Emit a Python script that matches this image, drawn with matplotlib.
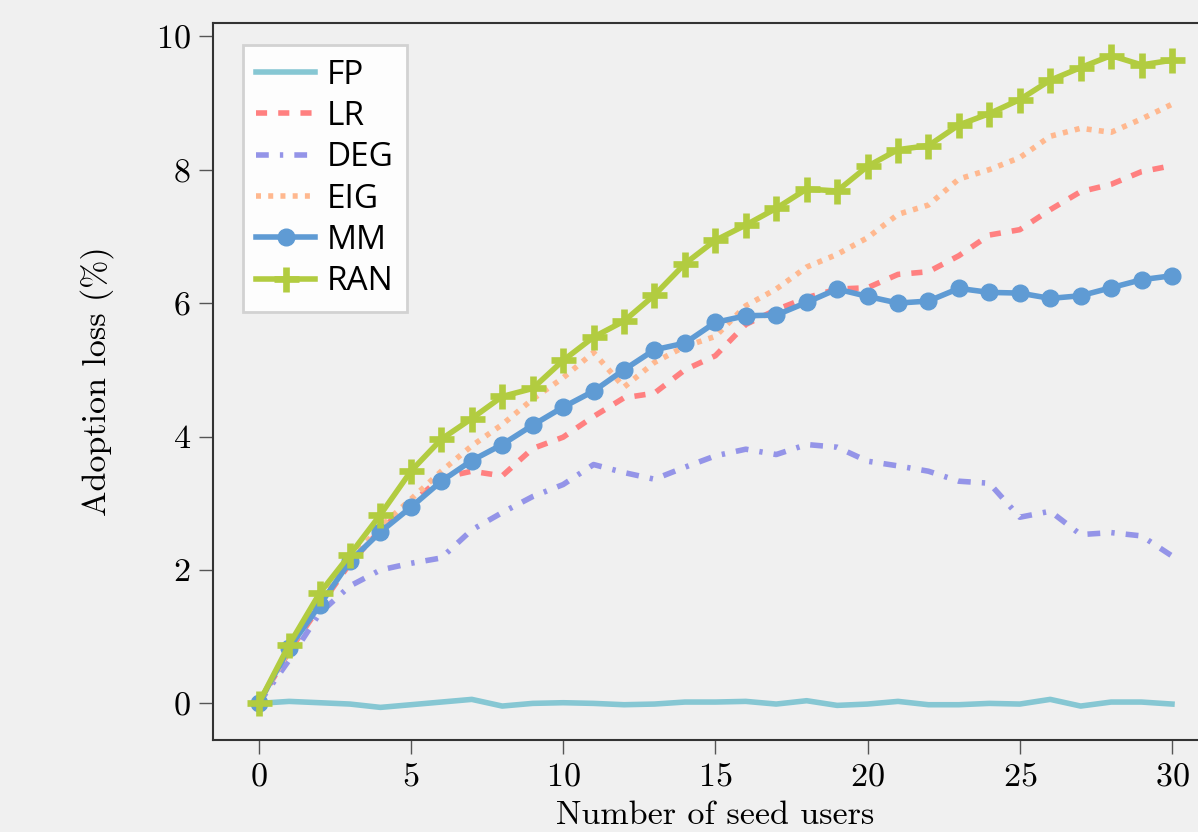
import matplotlib
matplotlib.use("Agg")
import matplotlib.pyplot as plt

seeds = list(range(31))

fp = [0.0, 0.03, 0.01, -0.01, -0.06, -0.02, 0.02, 0.06, -0.04, 0.0, 0.01,
      0.0, -0.02, -0.01, 0.02, 0.02, 0.03, -0.01, 0.04, -0.03, -0.01,
      0.03, -0.02, -0.02, 0.0, -0.01, 0.06, -0.04, 0.02, 0.02, -0.01]
lr = [0.0, 0.78, 1.45, 2.1, 2.6, 3.0, 3.38, 3.48, 3.41, 3.82, 3.99,
      4.3, 4.58, 4.65, 5.0, 5.21, 5.68, 5.9, 6.08, 6.21, 6.23,
      6.43, 6.47, 6.71, 7.02, 7.1, 7.4, 7.67, 7.78, 7.97, 8.06]
deg = [0.0, 0.65, 1.35, 1.76, 2.0, 2.1, 2.18, 2.6, 2.86, 3.1, 3.28,
       3.58, 3.46, 3.36, 3.54, 3.71, 3.81, 3.73, 3.88, 3.84, 3.63,
       3.56, 3.48, 3.33, 3.3, 2.79, 2.88, 2.53, 2.56, 2.51, 2.21]
eig = [0.0, 0.8, 1.55, 2.15, 2.65, 3.06, 3.48, 3.86, 4.18, 4.56, 4.88,
       5.26, 4.74, 5.11, 5.35, 5.5, 5.96, 6.21, 6.54, 6.73, 6.98,
       7.33, 7.47, 7.86, 8.0, 8.18, 8.5, 8.62, 8.56, 8.76, 8.98]
mm = [0.0, 0.83, 1.47, 2.13, 2.57, 2.94, 3.33, 3.64, 3.88, 4.17, 4.44,
      4.68, 5.0, 5.3, 5.4, 5.71, 5.81, 5.82, 6.01, 6.21, 6.1,
      6.0, 6.03, 6.22, 6.16, 6.15, 6.07, 6.11, 6.23, 6.35, 6.41]
ran = [0.0, 0.88, 1.65, 2.23, 2.83, 3.48, 3.96, 4.27, 4.6, 4.72, 5.14,
       5.49, 5.73, 6.12, 6.59, 6.94, 7.17, 7.42, 7.71, 7.68, 8.05,
       8.3, 8.36, 8.67, 8.84, 9.05, 9.34, 9.53, 9.71, 9.57, 9.64]

labels = ["FP", "LR", "DEG", "EIG", "MM", "RAN"]
xticks = [0, 5, 10, 15, 20, 25, 30]
yticks = [0, 2, 4, 6, 8, 10]

plt.rcParams['axes.formatter.use_mathtext'] = True
plt.rcParams['mathtext.fontset'] = 'cm'

bg = "#f0f0f0"
fig = plt.figure(figsize=(11.98, 8.32), dpi=100, facecolor=bg)
ax = fig.add_axes([0.1778, 0.1106, 0.8386, 0.8618])
ax.set_facecolor(bg)

lw = 4.0
ax.plot(seeds, fp, color="#86c7d3", lw=lw, label=labels[0])
ax.plot(seeds, lr, color="#ff8080", lw=lw, ls=(0, (2.0, 2.0)), label=labels[1])
ax.plot(seeds, deg, color="#9494e8", lw=lw, ls=(0, (2.3, 2.0, 0.6, 2.0)), label=labels[2])
ax.plot(seeds, eig, color="#ffb88f", lw=lw, ls=(0, (0.9, 1.3)), label=labels[3])
ax.plot(seeds, mm, color="#5f9bd4", lw=lw, marker='o', ms=12, label=labels[4])
ax.plot(seeds, ran, color="#b2cc40", lw=lw, marker='+', ms=18, mew=4.8, label=labels[5])

for s in ['left', 'bottom', 'top', 'right']:
    ax.spines[s].set_color("#333333")
    ax.spines[s].set_linewidth(1.5)

ax.set_xticks(xticks)
ax.set_yticks(yticks)
ax.tick_params(axis='both', direction='out', length=10, width=1.0, color="#555555",
               labelsize=24.5, pad=6)
for t in ax.get_xticklabels() + ax.get_yticklabels():
    t.set_fontfamily('cmr10')

ax.set_xlabel("Number of seed users", fontfamily='cmr10', fontsize=24.5, labelpad=7)
ax.set_ylabel("Adoption loss (%)", fontfamily='cmr10', fontsize=24.5, labelpad=30)

leg = ax.legend(loc='upper left', bbox_to_anchor=(0.030, 0.969), borderaxespad=0,
                prop={'family': 'Open Sans', 'size': 24},
                handlelength=1.75, handletextpad=0.35, labelspacing=0.25,
                borderpad=0.4, fancybox=False, framealpha=1.0)
leg.get_frame().set_facecolor("#fdfdfd")
leg.get_frame().set_edgecolor("#d2d2d2")
leg.get_frame().set_linewidth(2)

fig.savefig("out.png", dpi=100, facecolor=bg)
